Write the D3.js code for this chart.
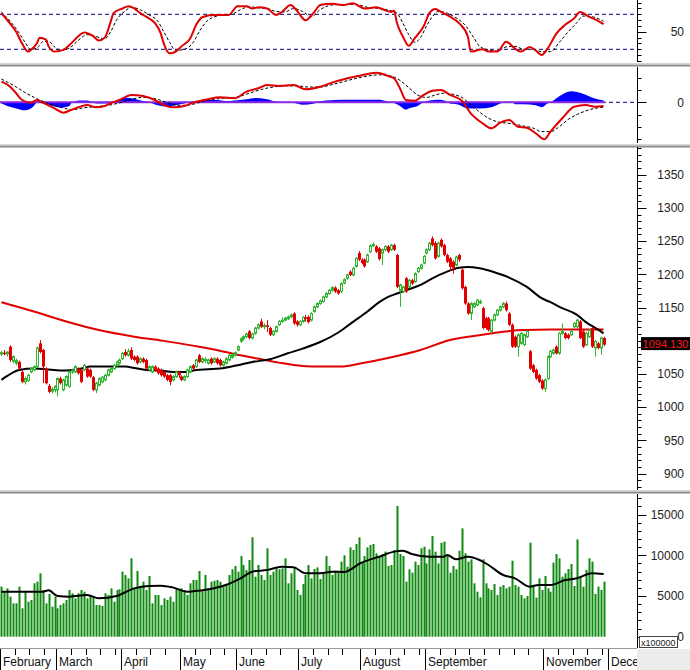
<!DOCTYPE html>
<html><head><meta charset="utf-8">
<script src="https://cdn.jsdelivr.net/npm/d3@7"></script>
<style>html,body{margin:0;padding:0;background:#fff;}svg{display:block;font-family:"Liberation Sans",Arial,sans-serif;}</style>
</head><body><svg id="c" width="690" height="670"></svg>
<script>
// ---------- DATA ----------
const openP = [1080,1082,1080,1091,1069,1066,1068,1053,1038,1040,1053,1056,1061,1096,1086,1058,1032,1024,1026,1026,1043,1026,1033,1031,1053,1053,1058,1056,1056,1058,1056,1045,1026,1033,1038,1041,1048,1053,1058,1063,1066,1073,1083,1078,1086,1076,1076,1068,1073,1071,1056,1053,1061,1058,1056,1053,1048,1048,1041,1046,1053,1046,1041,1046,1053,1063,1061,1078,1068,1070,1066,1073,1068,1073,1071,1063,1066,1071,1075,1078,1086,1099,1103,1106,1114,1104,1111,1119,1129,1121,1123,1119,1109,1114,1124,1129,1131,1133,1136,1141,1129,1124,1129,1135,1136,1131,1144,1151,1156,1159,1166,1171,1176,1180,1176,1174,1187,1194,1204,1199,1212,1232,1222,1222,1219,1234,1243,1242,1239,1232,1237,1242,1237,1244,1229,1176,1174,1194,1181,1191,1189,1204,1209,1217,1232,1237,1254,1247,1227,1252,1244,1229,1224,1219,1214,1229,1207,1181,1156,1141,1151,1154,1157,1149,1134,1134,1114,1131,1139,1146,1151,1156,1141,1124,1106,1091,1096,1094,1106,1084,1063,1056,1048,1040,1028,1043,1076,1081,1091,1081,1111,1111,1109,1109,1121,1121,1129,1114,1094,1106,1119,1089,1096,1089,1104];
const highP = [1085,1086,1084,1093,1078,1073,1070,1055,1046,1050,1060,1063,1091,1101,1088,1060,1035,1030,1033,1045,1046,1043,1048,1055,1058,1063,1060,1058,1065,1060,1058,1047,1038,1045,1047,1050,1058,1060,1065,1070,1073,1083,1087,1088,1090,1078,1078,1075,1075,1073,1063,1063,1063,1060,1058,1055,1050,1050,1048,1055,1055,1048,1048,1058,1063,1065,1073,1080,1075,1075,1073,1075,1075,1075,1073,1070,1075,1080,1081,1084,1093,1105,1108,1112,1116,1112,1121,1126,1133,1126,1131,1121,1116,1123,1131,1135,1136,1138,1141,1143,1131,1131,1137,1139,1138,1143,1153,1158,1162,1168,1173,1178,1182,1182,1178,1188,1194,1201,1206,1211,1226,1235,1224,1224,1231,1245,1248,1244,1241,1239,1244,1244,1246,1246,1231,1186,1183,1196,1193,1193,1203,1211,1216,1229,1239,1249,1257,1250,1249,1254,1246,1231,1226,1221,1228,1231,1209,1183,1158,1158,1158,1163,1162,1151,1136,1136,1133,1141,1148,1153,1158,1159,1143,1126,1108,1111,1113,1111,1116,1086,1065,1058,1050,1042,1043,1078,1086,1088,1093,1113,1126,1113,1111,1116,1128,1133,1131,1116,1113,1118,1121,1101,1098,1106,1106];
const lowP = [1077,1078,1076,1068,1066,1063,1056,1036,1034,1038,1051,1054,1059,1081,1036,1034,1021,1020,1022,1016,1034,1024,1031,1029,1050,1051,1049,1036,1054,1044,1044,1024,1021,1031,1036,1039,1046,1051,1056,1061,1064,1071,1076,1076,1071,1069,1064,1066,1066,1056,1054,1051,1053,1049,1046,1044,1039,1033,1039,1044,1044,1039,1039,1044,1051,1056,1059,1066,1066,1066,1064,1064,1066,1064,1061,1061,1064,1069,1073,1076,1084,1097,1100,1104,1102,1102,1109,1117,1119,1117,1113,1107,1107,1112,1122,1127,1129,1131,1134,1124,1121,1122,1127,1129,1126,1129,1142,1149,1154,1157,1164,1169,1174,1172,1169,1172,1185,1192,1197,1197,1210,1220,1215,1210,1217,1232,1241,1232,1221,1214,1235,1232,1235,1235,1179,1151,1172,1172,1179,1184,1187,1202,1207,1215,1230,1235,1242,1222,1225,1240,1227,1217,1205,1201,1212,1219,1177,1154,1139,1131,1149,1152,1155,1117,1117,1114,1112,1129,1137,1144,1149,1144,1122,1089,1089,1076,1094,1092,1104,1056,1051,1041,1036,1026,1023,1041,1074,1079,1079,1079,1109,1102,1102,1107,1119,1119,1102,1089,1092,1104,1089,1076,1087,1079,1092];
const closeP = [1082,1080,1083,1071,1076,1070,1058,1038,1043,1048,1058,1061,1089,1083,1061,1036,1023,1027,1031,1043,1036,1041,1046,1053,1056,1061,1051,1038,1063,1046,1046,1026,1036,1043,1045,1048,1056,1058,1063,1068,1071,1081,1078,1084,1073,1071,1066,1073,1068,1058,1061,1061,1055,1051,1048,1046,1041,1038,1046,1053,1048,1041,1046,1056,1061,1058,1071,1068,1073,1072,1071,1066,1073,1066,1063,1068,1073,1078,1079,1082,1091,1103,1106,1110,1104,1110,1119,1124,1121,1123,1121,1109,1114,1121,1129,1131,1134,1136,1139,1126,1124,1129,1135,1133,1128,1141,1151,1156,1160,1166,1171,1176,1180,1174,1171,1186,1192,1199,1199,1209,1224,1222,1217,1212,1229,1243,1245,1234,1223,1237,1242,1234,1244,1237,1181,1184,1181,1174,1191,1186,1201,1209,1214,1227,1237,1247,1244,1224,1247,1242,1229,1219,1211,1209,1226,1222,1179,1156,1141,1156,1156,1161,1159,1119,1119,1116,1131,1139,1146,1151,1156,1146,1124,1091,1091,1109,1111,1109,1114,1058,1053,1043,1038,1028,1041,1076,1084,1086,1081,1111,1114,1104,1104,1114,1126,1131,1104,1091,1111,1116,1091,1099,1089,1104,1094.13];
const volume = [6150,5530,5940,4920,4100,4100,6150,3490,5530,4300,4510,6560,6760,7790,5740,4100,5250,3690,4920,3490,3890,4100,4510,5740,5330,4710,5330,5740,5530,4710,5120,4920,3890,3890,3770,5330,5120,5940,4300,5740,5820,7990,7580,7170,9630,5940,8070,6150,6760,5740,7460,4100,5120,5120,3890,4710,4510,4920,4300,5940,5740,5940,5740,5120,6560,6970,6970,8070,5740,7580,5940,6760,6880,6970,6760,6150,6350,7580,8280,8690,7990,9910,8810,8190,9420,12210,7380,8810,7580,6970,10860,7580,7990,8400,8280,8400,9630,6560,7790,8400,5740,5120,6470,7580,8810,7170,8320,8520,7090,7790,9910,8690,7580,8110,7870,9220,10000,8600,10980,10650,11390,12210,9220,9910,10980,11270,11390,10240,9830,10160,10450,8690,8810,10650,16060,10160,9910,6760,8280,7870,9220,8810,10860,11060,9010,10730,12370,10450,9010,11550,11680,10040,7870,8690,8280,10570,13310,10240,9220,9500,6560,5530,4840,9500,6560,5940,5740,6470,5120,6150,6350,5940,6150,9340,6350,6150,5120,4710,5000,11550,6350,4800,7170,5740,7460,5940,5530,9100,10160,9630,7380,7790,8320,8930,6230,11960,7380,6150,8190,9630,9220,5250,6150,5740,6760];
// moving averages: [day index, value]
const ma50 = [[0,1041],[2,1047],[6,1056],[11,1058],[15,1057],[20,1055],[24,1056],[28,1059],[30,1061],[38,1061],[42,1061],[45,1059],[49,1056],[54,1055],[58,1053],[63,1053],[66,1056],[70,1057],[74,1058],[80,1063],[85,1068],[91,1072],[97,1081],[102,1088],[108,1098],[114,1112],[119,1128],[124,1144],[128,1158],[131,1166],[134,1171],[137,1176],[142,1184],[146,1194],[151,1204],[155,1210],[158,1211],[162,1209],[167,1203],[172,1195],[178,1181],[183,1164],[186,1158],[190,1149],[195,1139],[198,1128],[202,1117],[204,1111]];
const ma200 = [[0,1158],[11,1144],[22,1129],[33,1116],[45,1106],[56,1099],[67,1091],[74,1085],[81,1078],[88,1072],[94,1067],[102,1062],[108,1061],[115,1061],[122,1066],[131,1074],[142,1086],[152,1101],[163,1109],[173,1115],[177,1116],[186,1117],[204,1117]];
const volMA = [[0,5530],[14,5530],[16,5700],[19,5000],[23,4920],[29,5120],[33,4710],[39,5000],[45,5940],[50,6230],[54,6270],[58,6060],[63,5530],[67,5650],[72,5940],[76,6350],[81,7170],[85,7990],[90,8190],[95,8600],[99,8520],[103,7790],[108,7790],[112,7990],[116,7950],[122,9100],[128,9830],[133,10450],[136,10570],[139,10160],[145,9830],[150,9830],[151,10040],[154,9500],[158,9830],[162,9420],[165,8810],[170,7580],[174,7170],[179,6150],[182,6350],[186,6350],[191,6970],[195,7170],[200,7790],[204,7700]];
// stochastic %K and %D
const stochK = [[0,82],[2,70],[5,50],[7,30],[9,16],[10,19],[12,30],[13,40],[15,37],[16,25],[18,16],[21,19],[23,27],[26,42],[28,49],[31,43],[33,35],[35,40],[37,67],[38,82],[41,90],[43,94],[45,90],[47,82],[49,76],[52,65],[54,47],[55,30],[57,13],[59,16],[61,25],[64,39],[66,62],[68,75],[72,79],[77,79],[80,94],[83,94],[85,90],[87,92],[90,90],[93,79],[95,84],[98,96],[100,87],[103,70],[106,84],[108,96],[112,98],[116,96],[119,99],[123,90],[127,92],[130,87],[132,84],[133,86],[134,65],[136,42],[138,26],[140,39],[143,59],[145,82],[147,89],[149,84],[152,76],[155,65],[158,42],[159,16],[163,20],[165,16],[168,16],[171,33],[174,21],[176,16],[179,24],[181,18],[183,10],[185,21],[188,47],[191,62],[194,73],[196,84],[199,76],[202,69],[204,63]];
const stochD = [[0,84],[3,68],[6,48],[8,32],[10,20],[12,22],[14,33],[16,34],[18,24],[20,18],[23,22],[26,35],[29,45],[32,42],[35,38],[37,50],[39,70],[42,86],[44,92],[47,88],[50,79],[53,68],[55,50],[57,32],[59,18],[62,20],[65,32],[67,50],[70,70],[74,78],[78,80],[81,88],[84,93],[87,91],[90,90],[93,85],[96,84],[99,90],[102,85],[105,76],[108,88],[112,96],[116,97],[120,97],[124,92],[128,90],[132,86],[134,82],[136,65],[138,45],[140,32],[142,40],[144,60],[146,76],[148,85],[151,82],[154,74],[157,62],[160,40],[162,25],[165,19],[168,17],[171,24],[174,25],[177,20],[180,20],[183,16],[186,16],[189,32],[192,50],[195,66],[197,77],[200,76],[204,68]];
// MACD line, signal, histogram
const macdLine = [[0,16.9],[3,12.8],[5,7.4],[7,1.9],[10,-0.3],[12,1.9],[14,-0.3],[18,-4.9],[21,-8.5],[23,-6.9],[26,-4.1],[29,-2.2],[32,-4.1],[35,-3],[37,-0.8],[40,1.9],[44,6],[48,5.2],[52,1.9],[55,-2.2],[58,-4.1],[62,-3],[65,-0.3],[70,2.5],[74,4.1],[79,3.3],[83,8.7],[87,11.5],[90,14.2],[94,13.4],[99,14.2],[103,10.7],[108,12.8],[112,16.1],[116,18.9],[121,21.6],[127,24.3],[131,21.6],[133,19.7],[135,11.5],[137,1.9],[140,1.3],[143,6],[146,9.5],[149,10.1],[152,6],[156,1.3],[159,-9],[163,-17.2],[166,-21.3],[169,-16.7],[172,-14.5],[175,-20],[178,-20.8],[181,-25.4],[184,-30.3],[186,-24.1],[190,-13.1],[194,-3.6],[198,-2.2],[201,-3.6],[204,-3]];
const macdSignal = [[0,19],[4,14],[8,8],[12,3],[16,-1],[20,-4],[24,-6],[28,-4.5],[32,-3.5],[36,-2.5],[40,-0.5],[44,2.5],[48,4],[52,3],[56,0],[60,-2.5],[64,-2],[68,0.5],[72,2.5],[76,3.5],[80,4.5],[84,7.5],[88,10.5],[92,12.5],[96,13.5],[100,13.5],[104,12.5],[108,12.5],[112,14.5],[116,17],[120,19.5],[124,21.5],[128,22.5],[132,21.5],[135,18],[138,12],[141,6],[144,4],[147,6],[150,7.5],[153,6.5],[156,4],[159,-2],[162,-8],[165,-13],[168,-16],[171,-17],[174,-18],[177,-19.5],[180,-21],[183,-24],[186,-24],[189,-20],[192,-14],[195,-10],[198,-7],[201,-5],[204,-4]];
const macdHist = [[0,-1],[2,-3],[5,-5],[8,-6.6],[11,-3],[12,0],[13,1],[15,-1],[18,-3.5],[20,-4.5],[23,-3],[24,0],[27,1.5],[29,1.5],[31,0],[32,-1],[36,-1],[37,0],[40,1.5],[42,4],[45,3],[48,1],[50,0],[53,-2.5],[56,-3.5],[59,-2.5],[64,0],[67,1.5],[72,2],[76,1],[79,1.5],[83,2.5],[86,3.5],[90,2.5],[93,0.5],[98,0],[100,-1],[102,-2],[106,-1],[107,0.5],[110,1.5],[116,2],[122,2],[128,2],[131,0.5],[133,-0.5],[135,-3],[137,-6],[138,-5],[141,-3],[143,0],[145,1.5],[148,2],[151,0.5],[152,-1],[155,-2],[158,-5],[162,-5],[166,-4],[169,-1],[171,0.5],[173,0],[174,-1.5],[177,-1.5],[181,-2.5],[183,-4],[185,-1],[186,0],[189,5],[193,9],[197,7],[200,4],[204,1.5]];
// axis text
const monthNames = ["February","March","April","May","June","July","August","September","November","December"];
const monthStart = [0,19,41,61,80,101,122,144,184,206];
const stochLabels = [50];
const macdLabels = [0];
const priceLabels = [900,950,1000,1050,1150,1200,1250,1300,1350];
const volLabels = [0,5000,10000,15000];
const lastLabel = "1094.130";
const volUnit = "x100000";

// ---------- LAYOUT ----------
const svg = d3.select('#c');
const AX = 637.5;
const x = d3.scaleLinear().domain([0,204]).range([1.4,603.6]);
const yS = d3.scaleLinear().domain([0,100]).range([60.95,2.65]);
const yM = d3.scaleLinear().domain([-30,20]).range([138.9,77.9]);
const yP = d3.scaleLinear().domain([900,1350]).range([473.5,174.7]);
const yV = d3.scaleLinear().domain([0,15000]).range([636.7,514.6]);
const panels = {s:[0,63], m:[67,144], p:[147,490], v:[494,648.5]};

const defs = svg.append('defs');
Object.entries(panels).forEach(([k,[a,b]])=>{
  defs.append('clipPath').attr('id','clip'+k).append('rect').attr('x',0).attr('y',a).attr('width',637).attr('height',b-a);
});
defs.append('clipPath').attr('id','clipx').append('rect').attr('x',0).attr('y',648).attr('width',637).attr('height',22);

svg.append('rect').attr('width',690).attr('height',670).attr('fill','#fff');
svg.append('rect').attr('x',637).attr('y',649).attr('width',53).attr('height',21).attr('fill','#ececec');

// separators
[[63.5,65.5],[144.5,146.5],[490.5,492.5]].forEach(([l,d])=>{
  svg.append('line').attr('x1',0).attr('x2',690).attr('y1',l).attr('y2',l).attr('stroke','#d6d6d6');
  svg.append('line').attr('x1',0).attr('x2',690).attr('y1',d).attr('y2',d).attr('stroke','#8a8a8a').attr('stroke-width',2);
});

function rightAxis(y0,y1,scale,vals,majorFn,labels,fmt){
  const g = svg.append('g');
  g.append('line').attr('x1',AX).attr('x2',AX).attr('y1',y0).attr('y2',y1).attr('stroke','#000');
  vals.forEach(v=>{
    const yy = Math.round(scale(v))+0.5;
    if(yy<y0||yy>y1) return;
    g.append('line').attr('x1',AX).attr('x2',AX+(majorFn(v)?9:4)).attr('y1',yy).attr('y2',yy).attr('stroke','#000');
  });
  labels.forEach(v=>{
    g.append('text').attr('x',684).attr('y',scale(v)).attr('dy','0.36em').attr('text-anchor','end')
      .attr('font-size',12).attr('fill','#222').text(fmt?fmt(v):v);
  });
}

// ---------- STOCHASTIC ----------
const gS = svg.append('g').attr('clip-path','url(#clips)');
[20,80].forEach(v=>gS.append('line').attr('x1',0).attr('x2',637).attr('y1',yS(v)).attr('y2',yS(v))
  .attr('stroke','#000080').attr('stroke-dasharray','4,3'));
const lineS = d3.line().x(d=>x(d[0])).y(d=>yS(d[1])).curve(d3.curveMonotoneX);
gS.append('path').attr('d',lineS(stochD)).attr('fill','none').attr('stroke','#000').attr('stroke-width',1).attr('stroke-dasharray','3,2');
gS.append('path').attr('d',lineS(stochK)).attr('fill','none').attr('stroke','#e00000').attr('stroke-width',2);
rightAxis(0,62,yS,d3.range(0,101,10),v=>v===50,stochLabels);

// ---------- MACD ----------
const gM = svg.append('g').attr('clip-path','url(#clipm)');
gM.append('line').attr('x1',0).attr('x2',637).attr('y1',yM(0)).attr('y2',yM(0)).attr('stroke','#000080').attr('stroke-dasharray','4,3');
const areaH = d3.area().x(d=>x(d[0])).y0(yM(0)).y1(d=>yM(d[1])).curve(d3.curveMonotoneX);
gM.append('path').attr('d',areaH(macdHist)).attr('fill','#0000ff');
gM.append('line').attr('x1',x(0)-1.4).attr('x2',x(204)+1).attr('y1',yM(0)).attr('y2',yM(0)).attr('stroke','#8a2be2').attr('stroke-width',2);
const lineM = d3.line().x(d=>x(d[0])).y(d=>yM(d[1])).curve(d3.curveMonotoneX);
gM.append('path').attr('d',lineM(macdSignal)).attr('fill','none').attr('stroke','#000').attr('stroke-width',1).attr('stroke-dasharray','3,2');
gM.append('path').attr('d',lineM(macdLine)).attr('fill','none').attr('stroke','#e00000').attr('stroke-width',2);
rightAxis(67,143,yM,d3.range(-30,21,10),v=>v===0,macdLabels);

// ---------- PRICE ----------
const gP = svg.append('g').attr('clip-path','url(#clipp)');
const linePm = d3.line().x(d=>x(d[0])).y(d=>yP(d[1])).curve(d3.curveMonotoneX);
gP.append('path').attr('d',linePm(ma200)).attr('fill','none').attr('stroke','#e00000').attr('stroke-width',2);
gP.append('path').attr('d',linePm(ma50)).attr('fill','none').attr('stroke','#000').attr('stroke-width',2);
const idx = d3.range(closeP.length);
idx.forEach(i=>{
  const cx = Math.round(x(i));
  const up = closeP[i] >= openP[i];
  const col = up ? '#2fb42f' : '#e00000';
  gP.append('line').attr('x1',cx+0.5).attr('x2',cx+0.5).attr('y1',yP(highP[i])).attr('y2',yP(lowP[i])).attr('stroke',col);
  const t = yP(Math.max(openP[i],closeP[i])), b = yP(Math.min(openP[i],closeP[i]));
  if(up){
    gP.append('rect').attr('x',cx-0.5).attr('y',t).attr('width',2).attr('height',Math.max(1,b-t))
      .attr('fill','#fff').attr('stroke',col).attr('stroke-width',1);
  } else {
    gP.append('rect').attr('x',cx-1).attr('y',t).attr('width',3).attr('height',Math.max(1.5,b-t)).attr('fill',col);
  }
});
rightAxis(147,490,yP,d3.range(880,1391,10),v=>v%50===0,priceLabels);
const ly = yP(closeP[closeP.length-1]) - 1;
svg.append('rect').attr('x',641).attr('y',ly-6.5).attr('width',49).attr('height',13).attr('fill','#000');
svg.append('text').attr('x',665.5).attr('y',ly).attr('dy','0.36em').attr('text-anchor','middle')
  .attr('font-size',11).attr('fill','#ff1a1a').text(lastLabel);

// ---------- VOLUME ----------
const gV = svg.append('g').attr('clip-path','url(#clipv)');
idx.forEach(i=>{
  const cx = Math.round(x(i));
  gV.append('rect').attr('x',cx-0.5).attr('y',yV(volume[i])).attr('width',2).attr('height',yV(0)-yV(volume[i])).attr('fill','#118a11');
});
const lineV = d3.line().x(d=>x(d[0])).y(d=>yV(d[1])).curve(d3.curveMonotoneX);
gV.append('path').attr('d',lineV(volMA)).attr('fill','none').attr('stroke','#000').attr('stroke-width',2);
rightAxis(494,648,yV,d3.range(0,17001,1000),v=>v%5000===0,volLabels);
svg.append('rect').attr('x',639.5).attr('y',636.5).attr('width',38).attr('height',11).attr('fill','#fff').attr('stroke','#444');
svg.append('text').attr('x',641).attr('y',645.5).attr('font-size',9).attr('fill','#222').text(volUnit);

// ---------- X AXIS ----------
svg.append('line').attr('x1',0).attr('x2',637).attr('y1',648.5).attr('y2',648.5).attr('stroke','#999');
const gX = svg.append('g').attr('clip-path','url(#clipx)');
monthStart.forEach((s,k)=>{
  const tx = Math.round(x(s-0.5))+0.5;
  gX.append('line').attr('x1',tx).attr('x2',tx).attr('y1',649).attr('y2',670).attr('stroke','#000');
  gX.append('text').attr('x',tx+2.5).attr('y',666).attr('font-size',12).attr('fill','#111').text(monthNames[k]);
  const nxt = k<monthStart.length-1 ? monthStart[k+1] : s;
  for(let j=s+5;j<nxt-1;j+=5){
    const mx = Math.round(x(j-0.5))+0.5;
    gX.append('line').attr('x1',mx).attr('x2',mx).attr('y1',649).attr('y2',655).attr('stroke','#000');
  }
});
</script></body></html>
